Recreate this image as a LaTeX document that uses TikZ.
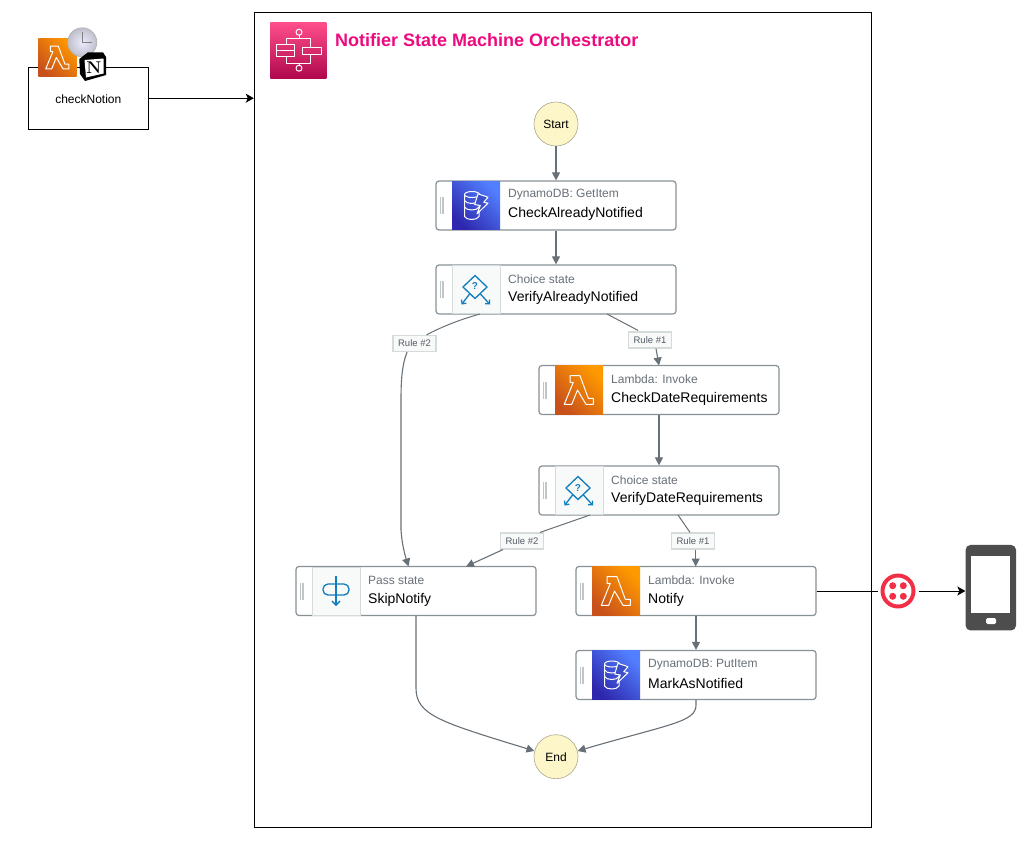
\documentclass[tikz,border=0pt]{standalone}
\usepackage{fontspec}
\setsansfont{Liberation Sans}
\usetikzlibrary{arrows.meta,calc,positioning}

\definecolor{edgegray}{HTML}{687078}
\definecolor{boxgray}{HTML}{879196}
\definecolor{gripgray}{HTML}{D5DBDB}
\definecolor{rulegray}{HTML}{545B64}
\definecolor{iconbg}{HTML}{F8F9F9}
\definecolor{iconblue}{HTML}{0F7DBE}
\definecolor{circlefill}{HTML}{FDF6C9}
\definecolor{circledraw}{HTML}{ABA88F}
\definecolor{titlepink}{HTML}{EC0A7E}
\definecolor{twiliored}{HTML}{F22F46}
\definecolor{phonegray}{HTML}{4D4D4D}
\definecolor{lambdadark}{HTML}{C8511B}
\definecolor{lambdalight}{HTML}{FF9900}
\definecolor{dynamodark}{HTML}{2E27AD}
\definecolor{dynamolight}{HTML}{527FFF}
\definecolor{dynamomid}{HTML}{3C4FC8}
\definecolor{stepdark}{HTML}{B0084D}
\definecolor{steplight}{HTML}{FF4F8B}

\tikzset{
  edge/.style={draw=edgegray,line width=1.1pt,-{Triangle[width=8pt,length=8pt]}},
  edgeplain/.style={draw=edgegray,line width=1pt},
  blackedge/.style={draw=black,line width=.9pt,-{Stealth[width=9pt,length=8pt,inset=2pt]}},
  statebox/.style={draw=boxgray,line width=1.2pt,rounded corners=3pt,fill=white,minimum width=240pt,minimum height=49pt,inner sep=0pt},
  icon/.style={minimum width=48pt,minimum height=48.4pt,inner sep=0pt},
  lambdabg/.style={icon,shading=axis,left color=lambdadark,right color=lambdalight,shading angle=135},
  dynamobg/.style={icon,shading=axis,left color=dynamodark,right color=dynamolight,shading angle=135},
  plainbg/.style={icon,fill=iconbg,draw=gripgray,line width=.6pt},
  statetype/.style={anchor=west,inner sep=0pt,text=edgegray,font=\sffamily\fontsize{12}{14}\selectfont},
  statename/.style={anchor=west,inner sep=0pt,text=black,font=\sffamily\fontsize{14}{16}\selectfont},
  rulebox/.style={draw=gripgray,line width=1.2pt,fill=iconbg,minimum width=43pt,minimum height=16pt,inner sep=0pt,text=rulegray,font=\sffamily\fontsize{9.5}{11}\selectfont},
  endpoint/.style={circle,draw=circledraw,line width=.6pt,fill=circlefill,minimum size=44pt,inner sep=0pt,font=\sffamily\fontsize{12}{14}\selectfont},
  whiteline/.style={draw=white,line width=1pt,line join=round},
  blueline/.style={draw=iconblue,line width=1.3pt},
  pics/grip/.style={code={
    \draw[gripgray!90!black,line width=1.5pt] (5,-8.5) -- (5,8.5);
    \draw[gripgray!90!black,line width=1.5pt] (7.7,-8.5) -- (7.7,8.5);
  }},
  pics/lambda/.style={code={
    \draw[whiteline] (-9,-14.3) -- (1,-14.3) -- (9.3,8.3) -- (14.3,8.3) -- (14.3,14.3) -- (7,14.3) -- (-1.5,0) -- (-7.3,14.3) -- (-14.7,14.3) -- (-5.7,-7.7) -- (-9,-7.7) -- cycle;
  }},
  pics/dynamo/.style={code={
    \draw[whiteline] (-4,-11) ellipse [x radius=7.5,y radius=3];
    \draw[whiteline] (-11.5,-11) -- (-11.5,11) .. controls (-9.5,15) and (1,15) .. (3,11) -- (3,-11);
    \draw[whiteline] (-11.5,-5) .. controls (-9.5,-1) and (1,-1) .. (3,-5);
    \draw[whiteline] (-11.5,1.5) .. controls (-9.5,5.5) and (1,5.5) .. (3,1.5);
    \draw[whiteline,fill=dynamomid] (2,-11.7) -- (12,-8.3) -- (7.7,-3.3) -- (12,-2.3) -- (1,8.3) -- (4.3,0) -- (-1.3,-1) -- cycle;
  }},
  pics/choice/.style={code={
    \draw[blueline] (-1,-14) -- (11,-2.5) -- (-1,9) -- (-13,-2.5) -- cycle;
    \node[inner sep=0pt,text=iconblue,font=\sffamily\bfseries\fontsize{10}{11}\selectfont] (-pin) at (-1,-3) {?};
    \draw[blueline,-{Straight Barb[width=6pt,length=3pt]}] (-6,4) -- (-14.5,15);
    \draw[blueline,-{Straight Barb[width=6pt,length=3pt]}] (4,4) -- (14,15);
  }},
  pics/pass/.style={code={
    \draw[blueline,rounded corners=5pt] (-13,-7) rectangle (13,4);
    \draw[blueline,-{Straight Barb[width=8pt,length=4pt]}] (0,-15) -- (0,15);
  }},
  pics/stepfn/.style={code={
    \draw[whiteline] (.7,-18) circle (3);
    \draw[whiteline] (.7,18) circle (3);
    \draw[whiteline] (.7,-15) -- (.7,-11.3);
    \draw[whiteline] (.7,15) -- (.7,13);
    \draw[whiteline] (-12,-6) -- (-12,-11.3) -- (12.3,-11.3) -- (12.3,-3);
    \draw[whiteline] (-12,6.3) -- (-12,13) -- (12.3,13) -- (12.3,4.7);
    \draw[whiteline] (-22,-6) rectangle (-4.3,.7);
    \draw[whiteline] (-22,.7) rectangle (-4.3,6.3);
    \draw[whiteline] (4,-3) rectangle (23.3,4.7);
  }}
}

\begin{document}
\begin{tikzpicture}[x=1pt,y=-1pt]
\useasboundingbox (0,0) rectangle (1035,841);

\node[draw=black,line width=.9pt,minimum width=617.5pt,minimum height=815pt,inner sep=0pt] (frame) at (563,420) {};
\node[draw=black,line width=.9pt,minimum width=120pt,minimum height=62pt,inner sep=0pt,font=\sffamily\fontsize{12}{14}\selectfont] (checkNotion) at (88.3,98.2) {};
\node[inner sep=0pt,font=\sffamily\fontsize{12}{14}\selectfont] (checkNotionName) at (88.3,99.5) {checkNotion};

% icons on top of checkNotion
\node[lambdabg,minimum width=38.4pt,minimum height=38.4pt] (topLambda) at (57.5,57.5) {};
\pic[scale=.8] at (topLambda) {lambda};
\node[circle,draw=gray!60,line width=.7pt,inner color=white!92!blue,outer color=blue!10!gray!45,minimum size=29pt,inner sep=0pt] (clockFace) at (82.3,42.3) {};
\draw[gray,line width=.5pt] (clockFace.center) -- ++(0,-10);
\draw[gray,line width=.5pt] (clockFace.center) -- ++(10,0);
\fill[black] (79.3,59) -- (88,52.3) -- (103,52.3) -- (106,57) -- (106,75) -- (85,81) -- (80,74) -- cycle;
\fill[white] (84.5,60) -- (103.5,58.5) -- (103.5,73.5) -- (86,77.5) -- cycle;
\node[inner sep=0pt,font=\rmfamily\bfseries\fontsize{17}{20}\selectfont] (notionLetter) at (93.8,67.6) {N};

% step functions title
\node[icon,minimum width=56pt,minimum height=56pt,shading=axis,top color=steplight,bottom color=stepdark] (titleIcon) at (298.3,50.2) {};
\pic at (titleIcon) {stepfn};
\node[anchor=west,inner sep=0pt,text=titlepink,font=\sffamily\bfseries\fontsize{18}{20}\selectfont] (title) at (335,40.5) {Notifier State Machine Orchestrator};

\node[endpoint] (start) at (556,124) {Start};
\node[endpoint] (stop) at (556,756.7) {End};

% states
\node[statebox] (checkAlready) at (556,205.5) {};
\pic at (checkAlready.west) {grip};
\node[dynamobg] (checkAlreadyIcon) at (476,205.5) {};
\pic at (checkAlreadyIcon) {dynamo};
\node[statetype] (checkAlreadyType) at (508,195) {DynamoDB: GetItem};
\node[statename] (checkAlreadyName) at (508,214) {CheckAlreadyNotified};

\node[statebox] (verifyAlready) at (556,289.5) {};
\pic at (verifyAlready.west) {grip};
\node[plainbg] (verifyAlreadyIcon) at (476,289.5) {};
\pic at (verifyAlreadyIcon) {choice};
\node[statetype] (verifyAlreadyType) at (508,279) {Choice state};
\node[statename] (verifyAlreadyName) at (508,298) {VerifyAlreadyNotified};

\node[statebox] (checkDate) at (659,390) {};
\pic at (checkDate.west) {grip};
\node[lambdabg] (checkDateIcon) at (579,390) {};
\pic at (checkDateIcon) {lambda};
\node[statetype] (checkDateType) at (611,379.5) {Lambda: Invoke};
\node[statename] (checkDateName) at (611,398.5) {CheckDateRequirements};

\node[statebox] (verifyDate) at (659,490.5) {};
\pic at (verifyDate.west) {grip};
\node[plainbg] (verifyDateIcon) at (579,490.5) {};
\pic at (verifyDateIcon) {choice};
\node[statetype] (verifyDateType) at (611,480) {Choice state};
\node[statename] (verifyDateName) at (611,499) {VerifyDateRequirements};

\node[statebox] (skipNotify) at (416,591) {};
\pic at (skipNotify.west) {grip};
\node[plainbg] (skipNotifyIcon) at (336,591) {};
\pic at (skipNotifyIcon) {pass};
\node[statetype] (skipNotifyType) at (368,580.5) {Pass state};
\node[statename] (skipNotifyName) at (368,599.5) {SkipNotify};

\node[statebox] (notify) at (696,591) {};
\pic at (notify.west) {grip};
\node[lambdabg] (notifyIcon) at (616,591) {};
\pic at (notifyIcon) {lambda};
\node[statetype] (notifyType) at (648,580.5) {Lambda: Invoke};
\node[statename] (notifyName) at (648,599.5) {Notify};

\node[statebox] (markNotified) at (696,675) {};
\pic at (markNotified.west) {grip};
\node[dynamobg] (markNotifiedIcon) at (616,675) {};
\pic at (markNotifiedIcon) {dynamo};
\node[statetype] (markNotifiedType) at (648,664.5) {DynamoDB: PutItem};
\node[statename] (markNotifiedName) at (648,683.5) {MarkAsNotified};

% rule labels
\node[rulebox] (ruleA) at (414.5,343.5) {Rule \#2};
\node[rulebox] (ruleB) at (650,340) {Rule \#1};
\node[rulebox] (ruleC) at (522,541) {Rule \#2};
\node[rulebox] (ruleD) at (693,541) {Rule \#1};

% twilio and phone
\node[circle,draw=twiliored,line width=4pt,minimum size=31pt,inner sep=0pt] (twilio) at (898,591) {};
\foreach \dx in {-5.3,5.3}
  \foreach \dy in {-5.3,5.3}
    \fill[twiliored] ($(twilio.center)+(\dx,\dy)$) circle (3.5);
\node[fill=phonegray,rounded corners=5pt,minimum width=50.5pt,minimum height=85.5pt,inner sep=0pt] (phone) at (990.8,587.7) {};
\node[fill=white,minimum width=39pt,minimum height=57pt,inner sep=0pt] (phoneScreen) at (990.5,584.5) {};
\node[fill=white,rounded corners=1.5pt,minimum width=10pt,minimum height=6pt,inner sep=0pt] (phoneButton) at (991,621) {};

% connectors
\draw[edge] (start) -- (checkAlready);
\draw[edge] (checkAlready) -- (verifyAlready);
\draw[edgeplain] (480,314) .. controls (462,319) and (443,326) .. ($(ruleA.north)+(12,0)$);
\draw[edge] ($(ruleA.south)+(-7.5,0)$) .. controls (402,365) and (401,380) .. (401,400) -- (401,530) .. controls (402,545) and (405,555) .. (408.5,566.5);
\draw[edgeplain] (607,314) -- ($(ruleB.north)+(-12,-1)$);
\draw[edge] ($(ruleB.south)+(6,0)$) -- (659,365.5);
\draw[edge] (checkDate) -- (verifyDate);
\draw[edgeplain] (590,515) -- ($(ruleC.north)+(18,0)$);
\draw[edge] ($(ruleC.south west)+(3,0)$) -- (466,566.5);
\draw[edgeplain] (678,515) -- ($(ruleD.north)+(-3,0)$);
\draw[edge] ($(ruleD.south)+(2.7,0)$) -- (695.7,566.5);
\draw[edge] (notify) -- (markNotified);
\draw[edge] (skipNotify.south) -- (416,688) .. controls (416,715) and (440,722) .. (stop.165);
\draw[edge] (markNotified.south) -- (696,705) .. controls (696,722) and (670,724) .. (stop.15);
\draw[blackedge] (checkNotion.east) -- (frame.west |- checkNotion.east);
\draw[draw=black,line width=.9pt,shorten >=3pt] (notify.east) -- (twilio.west);
\draw[blackedge,shorten <=3pt] (twilio.east) -- (phone.west |- twilio.east);

\end{tikzpicture}
\end{document}
